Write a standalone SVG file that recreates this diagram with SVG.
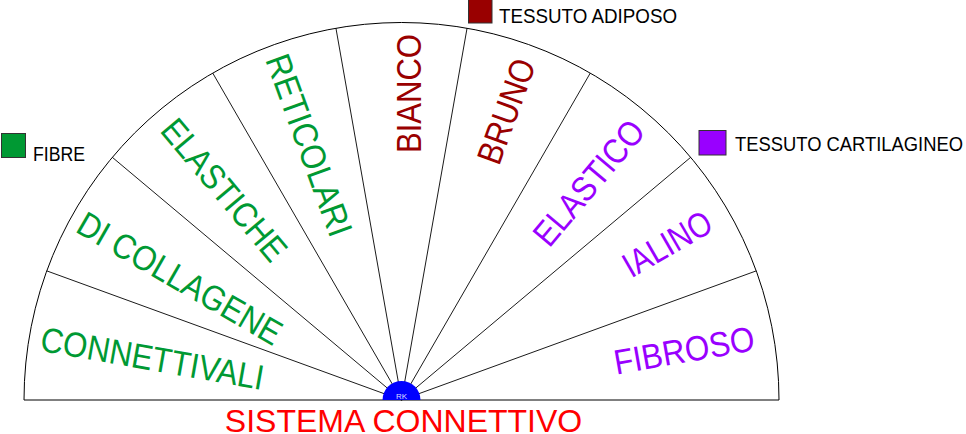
<svg xmlns="http://www.w3.org/2000/svg" width="966" height="434" viewBox="0 0 966 434">
<style>
text{font-family:"Liberation Sans",Arial,sans-serif}
.lbl{font-size:35px;text-anchor:middle}
.g{fill:#009933}.r{fill:#990000}.p{fill:#9900FF}
.leg{font-size:19.5px;fill:#000}
.sw{stroke:#333;stroke-width:1}
.spoke{stroke:#000;stroke-width:0.9}
</style>
<rect width="966" height="434" fill="#fff"/>
<g id="fan">
<path d="M24 400 A377.5 377.5 0 0 1 779 400 Z" fill="#fff" stroke="#000" stroke-width="1"/>
</g>
<g id="connectors">
<line class="spoke" x1="401.5" y1="400" x2="46.8" y2="270.9"/>
<line class="spoke" x1="401.5" y1="400" x2="112.3" y2="157.3"/>
<line class="spoke" x1="401.5" y1="400" x2="212.75" y2="73.1"/>
<line class="spoke" x1="401.5" y1="400" x2="335.95" y2="28.2"/>
<line class="spoke" x1="401.5" y1="400" x2="467.05" y2="28.2"/>
<line class="spoke" x1="401.5" y1="400" x2="590.25" y2="73.1"/>
<line class="spoke" x1="401.5" y1="400" x2="690.7" y2="157.3"/>
<line class="spoke" x1="401.5" y1="400" x2="756.2" y2="270.9"/>
</g>
<g id="connettivali"><text class="lbl g" transform="translate(152.5,358) rotate(10)" y="12.5" textLength="226" lengthAdjust="spacingAndGlyphs">CONNETTIVALI</text></g>
<g id="di-collagene"><text class="lbl g" transform="translate(180,278) rotate(30)" y="12.5" textLength="230" lengthAdjust="spacingAndGlyphs">DI COLLAGENE</text></g>
<g id="elastiche"><text class="lbl g" transform="translate(224.5,189.5) rotate(50)" y="12.5" textLength="174" lengthAdjust="spacingAndGlyphs">ELASTICHE</text></g>
<g id="reticolari"><text class="lbl g" transform="translate(309.5,145) rotate(70)" y="12.5" textLength="191" lengthAdjust="spacingAndGlyphs">RETICOLARI</text></g>
<g id="bianco"><text class="lbl r" transform="translate(408,93.5) rotate(-90)" y="12.5" textLength="119" lengthAdjust="spacingAndGlyphs">BIANCO</text></g>
<g id="bruno"><text class="lbl r" transform="translate(506,111) rotate(-70)" y="12.5" textLength="109" lengthAdjust="spacingAndGlyphs">BRUNO</text></g>
<g id="elastico"><text class="lbl p" transform="translate(588.5,182.5) rotate(-50)" y="12.5" textLength="152" lengthAdjust="spacingAndGlyphs">ELASTICO</text></g>
<g id="ialino"><text class="lbl p" transform="translate(667,243.5) rotate(-30)" y="12.5" textLength="97" lengthAdjust="spacingAndGlyphs">IALINO</text></g>
<g id="fibroso"><text class="lbl p" transform="translate(684,350) rotate(-10)" y="12.5" textLength="142" lengthAdjust="spacingAndGlyphs">FIBROSO</text></g>
<g id="hub">
<path d="M382.5 400 A19 19 0 0 1 420.5 400 Z" fill="#0000FF"/>
<text x="401.5" y="399" font-size="8" fill="#ddddff" text-anchor="middle">RK</text>
</g>
<g id="title"><text x="403.5" y="432" font-size="32" fill="#FF0000" text-anchor="middle">SISTEMA CONNETTIVO</text></g>
<g id="legend-fibre">
<rect class="sw" x="1.5" y="133.5" width="24" height="24" fill="#009933"/>
<text class="leg" x="33" y="161" textLength="52" lengthAdjust="spacingAndGlyphs">FIBRE</text>
</g>
<g id="legend-adiposo">
<rect class="sw" x="468.5" y="-1" width="23.5" height="24" fill="#990000"/>
<text class="leg" x="499" y="23" textLength="178" lengthAdjust="spacingAndGlyphs">TESSUTO ADIPOSO</text>
</g>
<g id="legend-cartilagineo">
<rect class="sw" x="699" y="130.5" width="27" height="24.5" fill="#9900FF"/>
<text class="leg" x="735" y="151" textLength="228" lengthAdjust="spacingAndGlyphs">TESSUTO CARTILAGINEO</text>
</g>
</svg>
